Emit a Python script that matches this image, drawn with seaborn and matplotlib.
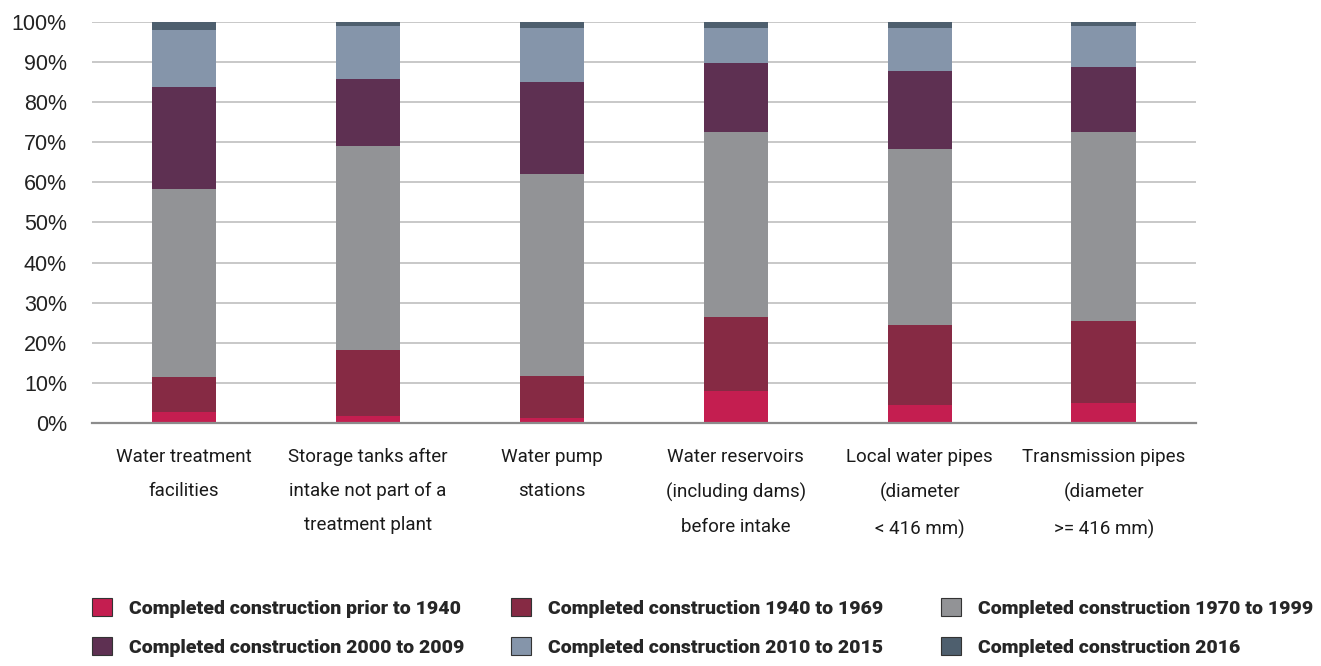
import numpy as np
import pandas as pd
import seaborn as sns
import matplotlib.pyplot as plt
from matplotlib.patches import Patch
from matplotlib.ticker import PercentFormatter

categories = [
    'Water treatment\nfacilities',
    'Storage tanks after\nintake not part of a\ntreatment plant',
    'Water pump\nstations',
    'Water reservoirs\n(including dams)\nbefore intake',
    'Local water pipes\n(diameter\n< 416 mm)',
    'Transmission pipes\n(diameter\n>= 416 mm)',
]
series = [
    'Completed construction prior to 1940',
    'Completed construction 1940 to 1969',
    'Completed construction 1970 to 1999',
    'Completed construction 2000 to 2009',
    'Completed construction 2010 to 2015',
    'Completed construction 2016',
]
prior_1940 = [2.8, 1.7, 1.2, 8.0, 4.5, 5.0]
y1940_1969 = [8.7, 16.4, 10.6, 18.5, 19.9, 20.4]
y1970_1999 = [46.9, 50.9, 50.4, 46.0, 43.8, 47.1]
y2000_2009 = [25.5, 16.7, 22.8, 17.2, 19.5, 16.2]
y2010_2015 = [14.1, 13.4, 13.5, 8.8, 10.8, 10.4]
y2016 = [2.0, 0.9, 1.5, 1.5, 1.5, 0.9]

colors = ['#C41E50', '#862A44', '#929396', '#5E3052', '#8595AA', '#4E5F6E']

values = np.array([prior_1940, y1940_1969, y1970_1999, y2000_2009, y2010_2015, y2016])
values = values / values.sum(axis=0) * 100
cum = values.cumsum(axis=0)

narrow = ['Roboto', 'DejaVu Sans']
sns.set_style('white')
plt.rcParams['font.family'] = ['Liberation Sans', 'DejaVu Sans']

fig = plt.figure(figsize=(13.21, 6.66), dpi=100)
ax = fig.add_axes([0.0696, 0.365, 0.8355, 0.602])

# draw cumulative totals from the top layer down so each hides the one under it
for i in range(len(series) - 1, -1, -1):
    df = pd.DataFrame({'cat': categories, 'val': cum[i]})
    sns.barplot(data=df, x='cat', y='val', order=categories, color=colors[i],
                saturation=1, width=0.35, ax=ax, zorder=3,
                edgecolor='none', linewidth=0)

ax.set_ylim(0, 100)
ax.set_xlim(-0.5, len(categories) - 0.5)
ax.set_yticks(np.arange(0, 101, 10))
ax.yaxis.set_major_formatter(PercentFormatter(decimals=0))
ax.grid(axis='y', color='#C8C8C8', linewidth=1.4, zorder=0)
ax.grid(axis='x', visible=False)
ax.set_axisbelow(True)
for s in ['top', 'right', 'left']:
    ax.spines[s].set_visible(False)
ax.spines['bottom'].set_color('#8C8C8C')
ax.spines['bottom'].set_linewidth(1.6)
ax.spines['bottom'].set_zorder(4)
ax.set_xlabel('')
ax.set_ylabel('')
ax.tick_params(axis='y', length=0, pad=18, labelsize=15.5, labelcolor='#222222')
ax.tick_params(axis='x', length=0, pad=18)
ax.set_xticks(range(len(categories)))
ax.set_xticklabels(categories, family=narrow, fontsize=13.5, color='#1A1A1A',
                   linespacing=2.15, va='top')

handles = [Patch(facecolor=c, edgecolor='#333333', linewidth=0.8) for c in colors]
col_x = [92 / 1321, 511 / 1321, 941 / 1321]
for k in range(3):
    leg = fig.legend([handles[k], handles[k + 3]], [series[k], series[k + 3]],
                     loc='center left', bbox_to_anchor=(col_x[k], 0.058),
                     frameon=False, borderpad=0, borderaxespad=0,
                     handlelength=1.05, handleheight=1.05,
                     handletextpad=0.85, labelspacing=1.0,
                     prop={'family': narrow, 'weight': 'heavy', 'size': 14})

fig.savefig('out.png', dpi=100)
